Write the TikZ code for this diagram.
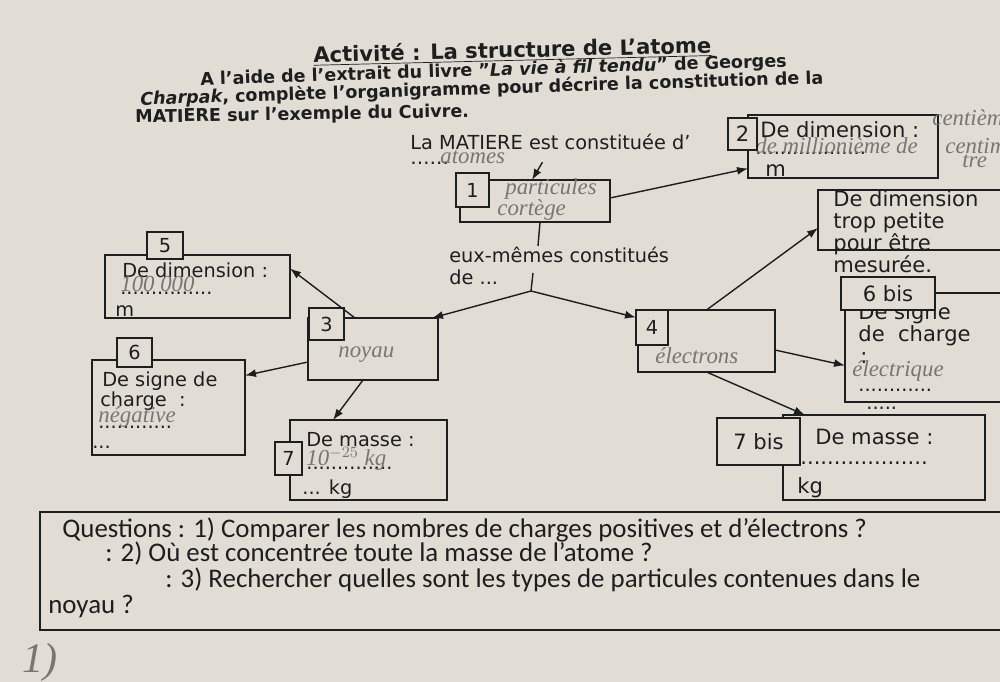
\documentclass[tikz,border=0pt]{standalone}
\usepackage{fontspec}
\setmainfont{DejaVu Sans}
\newfontfamily\qfont{Carlito}
\newfontfamily\handfont{Liberation Serif}
\usetikzlibrary{arrows.meta,calc}
\definecolor{paper}{RGB}{225,221,213}
\definecolor{ink}{RGB}{30,30,30}
\definecolor{pencil}{RGB}{120,118,114}
\newcommand\boxfs{\fontsize{11}{12.4}\selectfont}
\newcommand\rboxfs{\fontsize{12}{12.6}\selectfont}
\newcommand\headfs{\fontsize{10}{11}\selectfont}
\newcommand\titlefs{\fontsize{12}{13}\selectfont}
\newcommand\handfs{\handfont\itshape\fontsize{13}{14}\selectfont}
\newcommand\qfs{\qfont\fontsize{15.3}{16}\selectfont}
\tikzset{
  box/.style={draw=ink, thick, inner sep=0pt, outer sep=0pt},
  tab/.style={draw=ink, thick, fill=paper, inner sep=0pt, outer sep=0pt, text=ink, font=\boxfs},
  txt/.style={anchor=west, inner sep=0pt, text=ink, font=\boxfs},
  rtxt/.style={txt, font=\rboxfs},
  hand/.style={anchor=west, inner sep=0pt, text=pencil, font=\handfs},
  head/.style={anchor=west, inner sep=0pt, text=ink, font=\headfs\bfseries, rotate=1.8},
  quest/.style={anchor=west, inner sep=0pt, text=ink, font=\qfs},
  arr/.style={-{Latex[length=2.2mm,width=1.6mm]}, thick, draw=ink}
}
\begin{document}
\begin{tikzpicture}[x=0.02cm, y=-0.02cm]
  \fill[paper] (0,0) rectangle (1000,682);
  \useasboundingbox (0,0) rectangle (1000,682);
  \clip (0,0) rectangle (1000,682);

  % header
  \node[head, font=\titlefs\bfseries, rotate=-0.4] (title) at (313,56) {\underline{Activité : La structure de L’atome}};
  \node[head] (hdr2) at (200,80) {A l’aide de l’extrait du livre "\textit{La vie à fil tendu}" de Georges};
  \node[head] (hdr3) at (140,100) {\textit{Charpak}, complète l’organigramme pour décrire la constitution de la};
  \node[head, rotate=-0.8] (hdr4) at (135,118) {MATIERE sur l’exemple du Cuivre.};

  \node[txt] (matiere) at (410,142) {La MATIERE est constituée d’};
  \node[txt] (mdots) at (410,163) {\dots\dots};
  \node[hand] (atomes) at (440,157) {atomes};

  % boxes
  \node[box, minimum width=3cm, minimum height=0.84cm] (b1) at (535,201) {};
  \node[box, minimum width=3.8cm, minimum height=1.26cm] (b2) at (843,146.5) {};
  \node[box, minimum width=3.84cm, minimum height=1.2cm] (bt) at (914,220) {};
  \node[box, minimum width=3.3cm, minimum height=2.18cm] (b6b) at (927.5,347.5) {};
  \node[box, minimum width=2.74cm, minimum height=1.24cm] (b4) at (706.5,341) {};
  \node[box, minimum width=2.6cm, minimum height=1.24cm] (b3) at (373,349) {};
  \node[box, minimum width=3.7cm, minimum height=1.26cm] (b5) at (197.5,286.5) {};
  \node[box, minimum width=3.06cm, minimum height=1.9cm] (b6) at (168.5,407.5) {};
  \node[box, minimum width=3.14cm, minimum height=1.6cm] (b7) at (368.5,460) {};
  \node[box, minimum width=4.04cm, minimum height=1.7cm] (b7b) at (884,457.5) {};

  % box texts
  \node[hand] (part) at (505,189) {particules};
  \node[hand] (cort) at (497,210) {cortège};

  \node[rtxt] (d2) at (760,130) {De dimension :};
  \node[txt] (dots2) at (755,153) {..................};
  \node[hand] (mill) at (755,146) {de millionième de};
  \node[rtxt] (m2) at (765,171) {m};
  \node[hand] (cent1) at (932,118) {centième};
  \node[hand] (cent2) at (945,146) {centimè};
  \node[hand] (cent3) at (962,161) {tre};

  \node[rtxt, anchor=north west, align=left] (dtp) at (833,190) {De dimension\\trop petite\\pour être\\mesurée.};

  \node[rtxt, anchor=north west, align=left] (sig6b) at (858,303) {De signe\\de\ \ charge};
  \node[rtxt] (col6b) at (860,358) {:};
  \node[hand] (elec) at (852,371) {électrique};
  \node[txt] (dots6b) at (858,390) {............};
  \node[txt] (dots6c) at (866,408) {.....};

  \node[hand] (elecs) at (655,356) {électrons};
  \node[hand] (noyau) at (338,355) {noyau};

  \node[txt] (d5) at (122,270) {De dimension :};
  \node[txt] (dots5) at (120,293) {...............};
  \node[hand] (cent5) at (120,284) {100 000};
  \node[txt] (m5) at (115,311) {m};

  \node[txt] (s6) at (102,381) {De signe de};
  \node[txt] (c6) at (100,401) {charge\ \ :};
  \node[txt] (dots6) at (98,427) {............};
  \node[hand] (neg) at (98,417) {négative};
  \node[txt] (e6) at (92,447) {...};

  \node[txt] (m7) at (306,440) {De masse :};
  \node[txt] (dots7) at (306,468) {..............};
  \node[hand] (val7) at (306,459) {10$^{-25}$ kg};
  \node[txt] (kg7) at (302,489) {... kg};

  \node[rtxt] (m7b) at (815,437) {De masse :};
  \node[rtxt] (dots7b) at (800,463) {...................};
  \node[rtxt] (kg7b) at (797,488) {kg};

  % number tabs
  \node[tab, minimum width=0.66cm, minimum height=0.68cm] (t1) at (472.5,190) {1};
  \node[tab, font=\rboxfs, minimum width=0.58cm, minimum height=0.64cm] (t2) at (742.5,134) {2};
  \node[tab, font=\rboxfs, minimum width=1.88cm, minimum height=0.66cm] (t6b) at (888,293.5) {6 bis};
  \node[tab, minimum width=0.64cm, minimum height=0.7cm] (t4) at (652,327.5) {4};
  \node[tab, minimum width=0.7cm, minimum height=0.64cm] (t3) at (326.5,324) {3};
  \node[tab, minimum width=0.72cm, minimum height=0.54cm] (t5) at (165,245.5) {5};
  \node[tab, minimum width=0.7cm, minimum height=0.58cm] (t6) at (134.5,352.5) {6};
  \node[tab, minimum width=0.54cm, minimum height=0.66cm] (t7) at (288.5,458.5) {7};
  \node[tab, font=\rboxfs, minimum width=1.66cm, minimum height=0.94cm] (t7b) at (758.5,441.5) {7 bis};

  \node[txt, anchor=north west, align=left] (eux) at (449,247) {eux-mêmes constitués\\de ...};
  \coordinate (j1) at (538,246);
  \coordinate (j2) at (533,273);
  \coordinate (fork) at (531,291);

  % connectors
  \draw[arr] ($(matiere.south)+(-8,12)$) -- ($(b1.north)+(-3,0)$);
  \draw[arr] ($(b1.east)+(0,-3)$) -- ($(b2.west)+(0,22)$);
  \draw[thick, ink] ($(b1.south)+(5,0)$) -- (j1);
  \draw[thick, ink] (j2) -- (fork);
  \draw[arr] (fork) -- ($(b3.north east)+(-6,0)$);
  \draw[arr] (fork) -- ($(t4.west)+(0,-10)$);
  \draw[arr] ($(b3.north)+(-18,0)$) -- ($(b5.east)+(0,-18)$);
  \draw[arr] ($(b3.west)+(0,13)$) -- ($(b6.east)+(0,-32)$);
  \draw[arr] ($(b3.south)+(-10,0)$) -- ($(b7.north west)+(43,0)$);
  \draw[arr] (b4.north) -- ($(bt.west)+(0,8)$);
  \draw[arr] ($(b4.east)+(0,9)$) -- ($(b6b.west)+(0,18)$);
  \draw[arr] (b4.south) -- ($(b7b.north west)+(22,0)$);

  % questions
  \node[box, minimum width=19.5cm, minimum height=2.36cm, anchor=north west] (qbox) at (40,512) {};
  \node[quest] (q1) at (62,530) {Questions : 1) Comparer les nombres de charges positives et d’électrons ?};
  \node[quest] (q2) at (105,554) {: 2) Où est concentrée toute la masse de l’atome ?};
  \node[quest] (q3) at (165,580) {: 3) Rechercher quelles sont les types de particules contenues dans le};
  \node[quest] (q4) at (48,606) {noyau ?};
  \node[hand, font=\handfont\itshape\fontsize{24}{26}\selectfont] (one) at (22,662) {1)};
\end{tikzpicture}
\end{document}
